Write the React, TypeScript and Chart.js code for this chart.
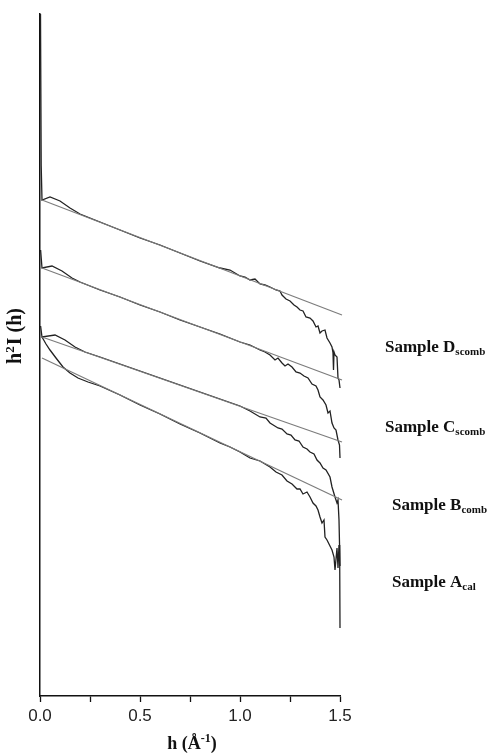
import React, { useEffect, useRef } from "react";
import { Chart, registerables } from "chart.js";

Chart.register(...registerables);

// ---- data (h in Å^-1, h²I(h) in arbitrary units) ----
const dX = [0.0025, 0.006, 0.01, 0.05, 0.1, 0.15, 0.2, 0.3, 0.4, 0.5, 0.6, 0.7, 0.8, 0.9, 0.95, 1.0, 1.025, 1.05, 1.075, 1.1, 1.125, 1.15, 1.18, 1.2, 1.21, 1.23, 1.25, 1.27, 1.285, 1.3, 1.315, 1.33, 1.35, 1.365, 1.38, 1.39, 1.4, 1.41, 1.425, 1.435, 1.45, 1.46, 1.465, 1.4675, 1.47, 1.475, 1.485, 1.49, 1.495, 1.5];
const dY = [682, 530, 496, 499, 495, 488, 482, 474, 466, 458, 451, 443, 435, 428, 426, 420, 419, 416, 417, 412, 411, 409, 406, 405, 401, 397, 395, 391, 389, 386, 385, 379, 378, 375, 369, 370, 363, 365, 366, 358, 353, 349, 343, 326, 344, 341, 339, 318, 316, 308];

const cX = [0.003, 0.01, 0.06, 0.11, 0.16, 0.2, 0.3, 0.4, 0.5, 0.6, 0.7, 0.8, 0.9, 1.0, 1.05, 1.1, 1.125, 1.15, 1.175, 1.19, 1.21, 1.225, 1.24, 1.26, 1.28, 1.3, 1.32, 1.34, 1.36, 1.38, 1.39, 1.4, 1.415, 1.43, 1.44, 1.45, 1.46, 1.47, 1.48, 1.49, 1.4975, 1.5];
const cY = [446, 428, 430, 425, 418, 414, 406, 399, 391, 384, 376, 369, 362, 354, 351, 346, 344, 341, 336, 338, 333, 330, 332, 329, 324, 323, 320, 318, 312, 310, 306, 299, 296, 291, 283, 285, 273, 268, 266, 256, 251, 238];

const bX = [0.003, 0.01, 0.075, 0.125, 0.175, 0.225, 0.3, 0.4, 0.5, 0.6, 0.7, 0.8, 0.9, 1.0, 1.05, 1.1, 1.13, 1.15, 1.19, 1.21, 1.235, 1.255, 1.275, 1.295, 1.315, 1.335, 1.35, 1.37, 1.385, 1.4, 1.415, 1.43, 1.45, 1.46, 1.475, 1.485, 1.49, 1.495, 1.5];
const bY = [370, 359, 361, 356, 349, 344, 339, 332, 325, 318, 311, 304, 297, 290, 285, 279, 278, 273, 268, 267, 262, 261, 256, 255, 249, 247, 244, 242, 236, 233, 228, 226, 219, 209, 199, 193, 196, 176, 130];

const aX = [0.01, 0.03, 0.05, 0.08, 0.115, 0.15, 0.19, 0.24, 0.3, 0.4, 0.5, 0.6, 0.7, 0.8, 0.9, 0.95, 1.0, 1.05, 1.1, 1.15, 1.18, 1.21, 1.235, 1.26, 1.285, 1.3, 1.315, 1.335, 1.35, 1.365, 1.38, 1.39, 1.4, 1.41, 1.42, 1.425, 1.435, 1.45, 1.46, 1.47, 1.475, 1.485, 1.49, 1.495, 1.4985, 1.5];
const aY = [359, 352, 346, 338, 329, 323, 318, 314, 310, 301, 291, 282, 272, 263, 253, 249, 244, 238, 235, 229, 224, 221, 215, 212, 207, 207, 202, 204, 199, 193, 190, 186, 179, 173, 176, 159, 156, 150, 146, 139, 126, 148, 128, 151, 136, 68];

// linear fits (end points)
const fitX = [0.01, 1.51];
const fitD = [496, 381];
const fitC = [428, 316];
const fitB = [359, 254];
const fitA = [338, 196];

const xTicks = [0, 0.5, 1.0, 1.5];
const sampleNames = ["Sample D", "Sample C", "Sample B", "Sample A"];
const sampleSubs = ["scomb", "scomb", "comb", "cal"];

const pts = (xs: number[], ys: number[]) => xs.map((x, i) => ({ x, y: ys[i] }));

const DATA_COLOR = "#222222";
const FIT_COLOR = "#7c7c7c";

const textPlugin = {
  id: "texts",
  afterDraw(chart: any) {
    const ctx = chart.ctx as CanvasRenderingContext2D;
    ctx.save();
    ctx.fillStyle = "#111";
    ctx.textBaseline = "alphabetic";
    // right-hand sample labels
    const lx = [385, 385, 392, 392];
    const ly = [352, 432, 510, 587];
    sampleNames.forEach((name, i) => {
      ctx.font = "bold 17px 'Liberation Serif'";
      ctx.fillText(name, lx[i], ly[i]);
      const w = ctx.measureText(name).width;
      ctx.font = "bold 11px 'Liberation Serif'";
      ctx.fillText(sampleSubs[i], lx[i] + w, ly[i] + 3);
    });
    // x title: h (Å-1)
    {
      const p1 = "h (Å";
      const sup = "-1";
      const p2 = ")";
      ctx.font = "bold 18px 'Liberation Serif'";
      const w1 = ctx.measureText(p1).width;
      const w3 = ctx.measureText(p2).width;
      ctx.font = "bold 12px 'Liberation Serif'";
      const w2 = ctx.measureText(sup).width;
      const total = w1 + w2 + w3;
      const cx = (chart.chartArea.left + chart.chartArea.right) / 2 + 2;
      let x = cx - total / 2;
      const by = 749;
      ctx.font = "bold 18px 'Liberation Serif'";
      ctx.fillText(p1, x, by);
      x += w1;
      ctx.font = "bold 12px 'Liberation Serif'";
      ctx.fillText(sup, x, by - 7);
      x += w2;
      ctx.font = "bold 18px 'Liberation Serif'";
      ctx.fillText(p2, x, by);
    }
    // y title: h²I (h)
    {
      ctx.translate(21, 336);
      ctx.rotate(-Math.PI / 2);
      const p1 = "h";
      const sup = "2";
      const p2 = "I (h)";
      ctx.font = "bold 20px 'Liberation Serif'";
      const w1 = ctx.measureText(p1).width;
      const w3 = ctx.measureText(p2).width;
      ctx.font = "bold 13px 'Liberation Serif'";
      const w2 = ctx.measureText(sup).width + 1;
      const total = w1 + w2 + w3;
      let x = -total / 2;
      ctx.font = "bold 20px 'Liberation Serif'";
      ctx.fillText(p1, x, 0);
      x += w1;
      ctx.font = "bold 13px 'Liberation Serif'";
      ctx.fillText(sup, x, -7);
      x += w2;
      ctx.font = "bold 20px 'Liberation Serif'";
      ctx.fillText(p2, x, 0);
    }
    ctx.restore();
  },
};

export default function App() {
  const ref = useRef<HTMLCanvasElement | null>(null);
  useEffect(() => {
    if (!ref.current) return;
    const line = (d: any[], color: string, w: number) => ({
      data: d,
      borderColor: color,
      borderWidth: w,
      pointRadius: 0,
      tension: 0,
      fill: false,
      clip: false as any,
    });
    const chart = new Chart(ref.current, {
      type: "line",
      data: {
        datasets: [
          line(pts(fitX, fitD), FIT_COLOR, 1.2),
          line(pts(fitX, fitC), FIT_COLOR, 1.2),
          line(pts(fitX, fitB), FIT_COLOR, 1.2),
          line(pts(fitX, fitA), FIT_COLOR, 1.2),
          line(pts(dX, dY), DATA_COLOR, 1.3),
          line(pts(cX, cY), DATA_COLOR, 1.3),
          line(pts(bX, bY), DATA_COLOR, 1.3),
          line(pts(aX, aY), DATA_COLOR, 1.3),
        ],
      },
      options: {
        animation: false,
        responsive: false,
        layout: { padding: { left: 40, right: 153, top: 14, bottom: 0 } },
        plugins: { legend: { display: false }, tooltip: { enabled: false } },
        scales: {
          x: {
            type: "linear",
            min: 0,
            max: 1.5,
            afterFit: (s: any) => {
              s.height = 57;
            },
            afterBuildTicks: (s: any) => {
              const t: any[] = [];
              for (let v = 0; v <= 1.5001; v += 0.25) t.push({ value: Math.round(v * 100) / 100 });
              s.ticks = t;
            },
            ticks: {
              autoSkip: false,
              maxRotation: 0,
              padding: 4,
              color: "#222",
              font: { family: "'Liberation Sans'", size: 17 },
              callback: (v: any) => {
                const n = Number(v);
                return xTicks.some((t) => Math.abs(t - n) < 1e-6) ? n.toFixed(1) : "";
              },
            },
            grid: {
              drawOnChartArea: false,
              drawTicks: true,
              tickLength: 6,
              tickColor: "#111",
              tickWidth: 1.3,
            },
            border: { display: true, color: "#111", width: 1.5 },
          },
          y: {
            min: 0,
            max: 682,
            afterFit: (s: any) => {
              s.width = 0;
            },
            ticks: { display: false },
            grid: { display: false, drawTicks: false },
            border: { display: true, color: "#111", width: 1.5 },
          },
        },
      },
      plugins: [textPlugin],
    });
    return () => chart.destroy();
  }, []);
  return (
    <div style={{ position: "absolute", left: 0, top: 0, width: 493, height: 753, background: "#fff" }}>
      <canvas ref={ref} width={493} height={753} style={{ display: "block" }} />
    </div>
  );
}
